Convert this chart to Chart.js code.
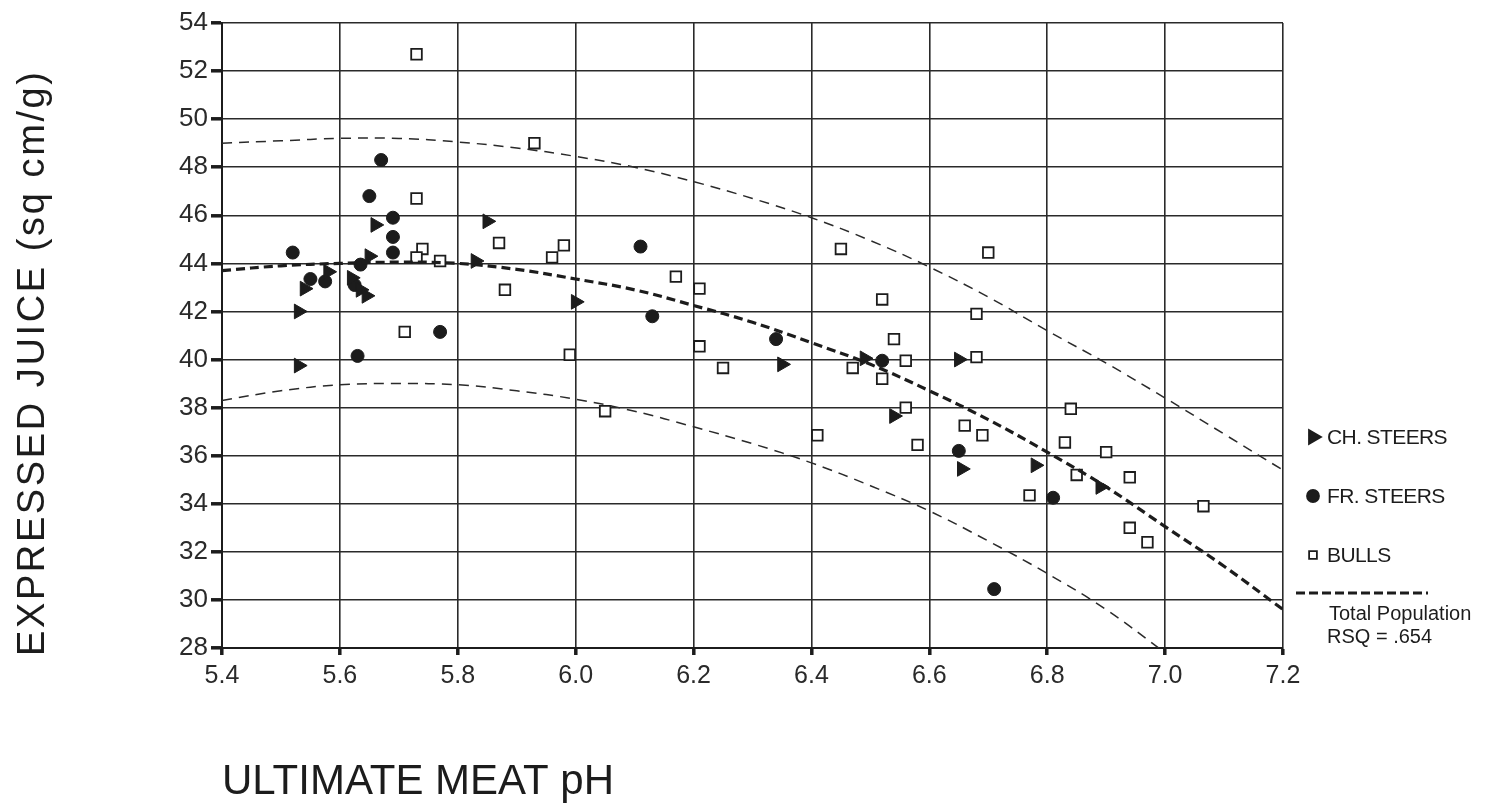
<!DOCTYPE html>
<html>
<head>
<meta charset="utf-8">
<script src="https://cdn.jsdelivr.net/npm/chart.js@4.4.0/dist/chart.umd.min.js"></script>
<style>
html, body { margin: 0; padding: 0; background: #fff; }
#wrap { width: 1485px; height: 806px; position: relative; }
</style>
</head>
<body>
<div id="wrap"><canvas id="juiceChart"></canvas></div>
<script>
// tick labels
const xTickLabels = ['5.4', '5.6', '5.8', '6.0', '6.2', '6.4', '6.6', '6.8', '7.0', '7.2'];
const yTickLabels = ['28', '30', '32', '34', '36', '38', '40', '42', '44', '46', '48', '50', '52', '54'];

// CH. STEERS (filled triangles)
const chSteersPh    = [5.53, 5.53, 5.54, 5.58, 5.62, 5.635, 5.645, 5.65, 5.66, 5.83, 5.85, 6.0, 6.35, 6.49, 6.54, 6.65, 6.655, 6.78, 6.89];
const chSteersJuice = [42.0, 39.75, 42.95, 43.65, 43.4, 42.9, 42.65, 44.3, 45.6, 44.1, 45.75, 42.4, 39.8, 40.05, 37.65, 40.0, 35.45, 35.6, 34.7];

// FR. STEERS (filled circles)
const frSteersPh    = [5.52, 5.55, 5.575, 5.625, 5.635, 5.63, 5.65, 5.67, 5.69, 5.69, 5.69, 5.77, 6.11, 6.13, 6.34, 6.52, 6.65, 6.71, 6.81];
const frSteersJuice = [44.45, 43.35, 43.25, 43.1, 43.95, 40.15, 46.8, 48.3, 45.9, 45.1, 44.45, 41.15, 44.7, 41.8, 40.85, 39.95, 36.2, 30.45, 34.25];

// BULLS (open squares)
const bullsPh    = [5.71, 5.73, 5.73, 5.74, 5.73, 5.77, 5.87, 5.88, 5.93, 5.96, 5.98, 5.99, 6.05, 6.17, 6.21, 6.21, 6.25, 6.41, 6.45, 6.47,
                    6.52, 6.52, 6.54, 6.56, 6.56, 6.58, 6.66, 6.68, 6.68, 6.69, 6.70, 6.77, 6.83, 6.84, 6.85, 6.90, 6.94, 6.94, 6.97, 7.065];
const bullsJuice = [41.15, 52.7, 46.7, 44.6, 44.25, 44.1, 44.85, 42.9, 49.0, 44.25, 44.75, 40.2, 37.85, 43.45, 42.95, 40.55, 39.65, 36.85, 44.6, 39.65,
                    42.5, 39.2, 40.85, 39.95, 38.0, 36.45, 37.25, 41.9, 40.1, 36.85, 44.45, 34.35, 36.55, 37.95, 35.2, 36.15, 35.1, 33.0, 32.4, 33.9];

// regression curve and its bands
const curvePh    = [5.4, 5.5, 5.6, 5.7, 5.8, 5.9, 6.0, 6.1, 6.2, 6.3, 6.4, 6.5, 6.6, 6.7, 6.8, 6.9, 7.0, 7.1, 7.2];
const totalFit   = [43.7, 43.9, 44.0, 44.05, 44.0, 43.75, 43.35, 42.9, 42.25, 41.55, 40.7, 39.8, 38.7, 37.5, 36.15, 34.7, 33.05, 31.4, 29.6];
const upperBand  = [49.0, 49.1, 49.2, 49.2, 49.05, 48.8, 48.45, 48.0, 47.4, 46.7, 45.9, 44.95, 43.85, 42.6, 41.2, 39.85, 38.4, 36.9, 35.4];
const lowerBand  = [38.3, 38.7, 38.95, 39.0, 38.95, 38.7, 38.35, 37.85, 37.2, 36.5, 35.7, 34.75, 33.7, 32.45, 31.1, 29.6, 27.8, null, null];

const toPoints = (xs, ys) => xs.map((x, i) => ({x: x, y: ys[i]})).filter(p => p.y !== null);

const INK = '#1c1c1c';
const FONT = 'Liberation Sans, Arial, Helvetica, sans-serif';

const legendItems = [
	{label: 'CH. STEERS', style: 'triangle', rotation: 90, radius: 8, fill: INK, y: 437},
	{label: 'FR. STEERS', style: 'circle', rotation: 0, radius: 6, fill: INK, y: 496},
	{label: 'BULLS', style: 'rect', rotation: 0, radius: 5.5, fill: '#fff', y: 555}
];

const decorPlugin = {
	id: 'decor',
	afterDraw(chart) {
		const ctx = chart.ctx;
		ctx.save();
		ctx.fillStyle = INK;

		// y axis title
		ctx.save();
		ctx.font = '38px ' + FONT;
		ctx.letterSpacing = '2.6px';
		ctx.textAlign = 'left';
		ctx.textBaseline = 'alphabetic';
		ctx.translate(44, 656);
		ctx.rotate(-Math.PI / 2);
		ctx.fillText('EXPRESSED JUICE (sq cm/g)', 0, 0);
		ctx.restore();

		// x axis title
		ctx.font = '42px ' + FONT;
		ctx.textAlign = 'left';
		ctx.textBaseline = 'alphabetic';
		ctx.fillText('ULTIMATE MEAT pH', 222, 794);

		// legend
		ctx.font = '21px ' + FONT;
		ctx.textBaseline = 'middle';
		legendItems.forEach(item => {
			ctx.save();
			ctx.fillStyle = item.fill;
			ctx.strokeStyle = INK;
			ctx.lineWidth = 1.8;
			Chart.helpers.drawPoint(ctx, {pointStyle: item.style, rotation: item.rotation, radius: item.radius, borderWidth: 1.8}, 1313, item.y);
			ctx.restore();
			ctx.save();
			ctx.letterSpacing = '-0.6px';
			ctx.fillText(item.label, 1327, item.y + 1);
			ctx.restore();
		});

		ctx.strokeStyle = INK;
		ctx.lineWidth = 3.2;
		ctx.setLineDash([9, 4]);
		ctx.beginPath();
		ctx.moveTo(1296, 593);
		ctx.lineTo(1428, 593);
		ctx.stroke();
		ctx.setLineDash([]);

		ctx.font = '20px ' + FONT;
		ctx.fillText('Total Population', 1329, 614);
		ctx.fillText('RSQ = .654', 1327, 637);
		ctx.restore();
	}
};

const ctx = document.getElementById('juiceChart').getContext('2d');

const data = {
	datasets: [
		{
			type: 'line',
			label: 'Total Population',
			data: toPoints(curvePh, totalFit),
			borderColor: INK,
			borderWidth: 3.2,
			borderDash: [9, 5],
			pointRadius: 0,
			tension: 0.4,
			fill: false
		},
		{
			type: 'line',
			label: 'upper',
			data: toPoints(curvePh, upperBand),
			borderColor: '#2a2a2a',
			borderWidth: 1.5,
			borderDash: [10, 7],
			pointRadius: 0,
			tension: 0.4,
			fill: false
		},
		{
			type: 'line',
			label: 'lower',
			data: toPoints(curvePh, lowerBand),
			borderColor: '#2a2a2a',
			borderWidth: 1.5,
			borderDash: [10, 7],
			pointRadius: 0,
			tension: 0.4,
			fill: false
		},
		{
			label: 'CH. STEERS',
			data: toPoints(chSteersPh, chSteersJuice),
			pointStyle: 'triangle',
			rotation: 90,
			pointRadius: 8.5,
			backgroundColor: INK,
			borderColor: INK,
			borderWidth: 1
		},
		{
			label: 'FR. STEERS',
			data: toPoints(frSteersPh, frSteersJuice),
			pointStyle: 'circle',
			pointRadius: 6.5,
			backgroundColor: INK,
			borderColor: INK,
			borderWidth: 1
		},
		{
			label: 'BULLS',
			data: toPoints(bullsPh, bullsJuice),
			pointStyle: 'rect',
			pointRadius: 7.5,
			backgroundColor: '#fff',
			borderColor: INK,
			borderWidth: 1.8
		}
	]
};

const config = {
	type: 'scatter',
	data: data,
	plugins: [decorPlugin],
	options: {
		responsive: true,
		maintainAspectRatio: false,
		animation: false,
		layout: {
			padding: {top: 23, right: 202, left: 0, bottom: 0}
		},
		plugins: {
			legend: {display: false},
			tooltip: {enabled: false}
		},
		scales: {
			x: {
				type: 'linear',
				min: 5.4,
				max: 7.2,
				afterBuildTicks: scale => {
					scale.ticks = xTickLabels.map(t => ({value: +t}));
				},
				afterFit: scale => {
					scale.height = 158;
				},
				ticks: {
					callback: (value, i) => xTickLabels[i],
					color: '#2a2a2a',
					font: {family: FONT, size: 25},
					padding: 6,
					maxRotation: 0
				},
				grid: {
					color: '#2a2a2a',
					lineWidth: 1.6,
					tickLength: 7,
					tickWidth: 3.5,
					tickColor: INK
				},
				border: {color: INK, width: 2}
			},
			y: {
				type: 'linear',
				min: 28,
				max: 54,
				afterBuildTicks: scale => {
					scale.ticks = yTickLabels.map(t => ({value: +t}));
				},
				afterFit: scale => {
					scale.width = 222;
				},
				ticks: {
					callback: (value, i) => yTickLabels[i],
					color: '#2a2a2a',
					font: {family: FONT, size: 26},
					padding: 3
				},
				grid: {
					color: '#2a2a2a',
					lineWidth: 1.6,
					tickLength: 11,
					tickWidth: 3.5,
					tickColor: INK
				},
				border: {color: INK, width: 2}
			}
		}
	}
};

const myChart = new Chart(ctx, config);
</script>
</body>
</html>
